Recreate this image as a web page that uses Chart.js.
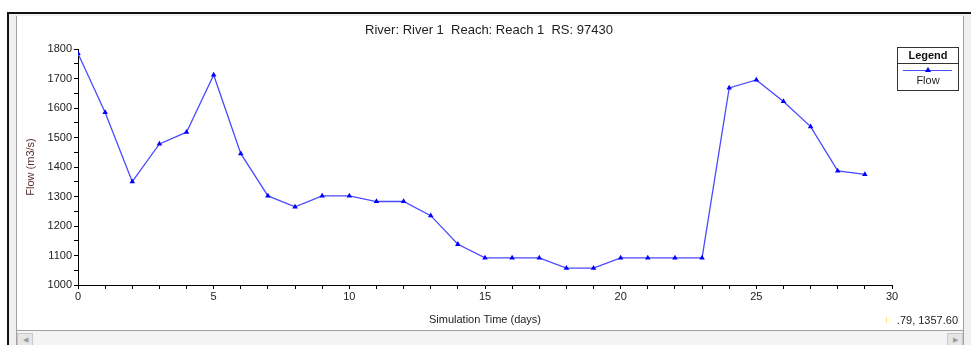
<!DOCTYPE html>
<html>
<head>
<meta charset="utf-8">
<script src="https://cdn.jsdelivr.net/npm/chart.js@4"></script>
<style>
  body { margin: 0; width: 971px; height: 345px; background: #fff; position: relative; overflow: hidden; font-family: "Liberation Sans", Arial, sans-serif; }
  .frame-top { position: absolute; left: 7px; top: 12px; width: 964px; height: 2px; background: #111; }
  .frame-left { position: absolute; left: 7px; top: 12px; width: 2px; height: 333px; background: #111; }
  .frame-gap-l { position: absolute; left: 9px; top: 14px; width: 7px; height: 331px; background: #f0f0f0; }
  .frame-gap-t { position: absolute; left: 9px; top: 14px; width: 962px; height: 2px; background: #f0f0f0; }
  .inner-l { position: absolute; left: 16px; top: 16px; width: 1px; height: 329px; background: #a0a0a0; }
  .vscroll { position: absolute; left: 963px; top: 16px; width: 8px; height: 329px; background: #f0f0f0; border-left: 1px solid #a0a0a0; }
  .hscroll { position: absolute; left: 17px; top: 330px; width: 946px; height: 15px; background: #f4f4f4; border-top: 1px solid #a0a0a0; }
  .hbtn { position: absolute; top: 2px; width: 14px; height: 12px; background: #e6e6e6; border: 1px solid #c8c8c8; font-size: 7px; color: #999; text-align: center; line-height: 12px; }
  #wrap { position: absolute; left: 17px; top: 16px; width: 946px; height: 314px; }
</style>
</head>
<body>
<div class="frame-gap-l"></div>
<div class="frame-gap-t"></div>
<div class="frame-top"></div>
<div class="frame-left"></div>
<div class="inner-l"></div>
<div class="vscroll"></div>
<div class="hscroll"><div class="hbtn" style="left:0">&#9664;</div><div class="hbtn" style="left:930px">&#9654;</div></div>
<div id="wrap"><canvas id="myChart" width="946" height="314"></canvas></div>
<script>
// datos
const days = [0, 1, 2, 3, 4, 5, 6, 7, 8, 9, 10, 11, 12, 13, 14, 15, 16, 17, 18, 19, 20, 21, 22, 23, 24, 25, 26, 27, 28, 29]
const flow = [1785, 1585, 1350, 1478, 1518, 1712, 1445, 1302, 1265, 1302, 1302, 1283, 1283, 1235, 1138, 1092, 1092, 1092, 1057, 1057, 1092, 1092, 1092, 1092, 1668, 1695, 1622, 1537, 1387, 1375]
const xTickLabels = [0, 5, 10, 15, 20, 25, 30]
const yTickLabels = [1000, 1100, 1200, 1300, 1400, 1500, 1600, 1700, 1800]
const chartTitle = "River: River 1  Reach: Reach 1  RS: 97430"
const seriesName = "Flow"
const cursorText = ".79, 1357.60"

const lineColor = "#4a4aff"
const font = "Liberation Sans"

// titulo, leyenda y texto de coordenadas
const extras = {
  id: 'extras',
  afterDraw(chart) {
    const ctx = chart.ctx
    ctx.save()
    ctx.fillStyle = "#222"
    ctx.font = `13px "${font}"`
    ctx.textAlign = "center"
    ctx.textBaseline = "middle"
    ctx.fillText(chartTitle, 472, 14)

    // leyenda
    const lx = 880, ly = 31, lw = 61, lh = 43
    ctx.strokeStyle = "#333"
    ctx.lineWidth = 1
    ctx.strokeRect(lx + 0.5, ly + 0.5, lw, lh)
    ctx.beginPath()
    ctx.moveTo(lx, ly + 16.5)
    ctx.lineTo(lx + lw, ly + 16.5)
    ctx.stroke()
    ctx.font = `bold 11px "${font}"`
    ctx.fillStyle = "#111"
    ctx.fillText("Legend", lx + lw / 2 + 0.5, ly + 9)
    ctx.strokeStyle = lineColor
    ctx.beginPath()
    ctx.moveTo(lx + 6, ly + 23.5)
    ctx.lineTo(lx + lw - 6, ly + 23.5)
    ctx.stroke()
    ctx.fillStyle = "#0000ff"
    ctx.beginPath()
    ctx.moveTo(lx + lw / 2 + 0.5, ly + 20)
    ctx.lineTo(lx + lw / 2 + 3.5, ly + 25)
    ctx.lineTo(lx + lw / 2 - 2.5, ly + 25)
    ctx.fill()
    ctx.font = `11px "${font}"`
    ctx.fillStyle = "#222"
    ctx.fillText(seriesName, lx + lw / 2 + 0.5, ly + 34)

    // coordenadas del cursor
    ctx.textAlign = "right"
    ctx.font = `11px "${font}"`
    ctx.fillText(cursorText, 941, 305)
    ctx.fillStyle = "#ffe27a"
    ctx.fillRect(869, 301, 1, 6)
    ctx.restore()
  }
}

const ctx = document.getElementById('myChart').getContext('2d')
const myChart = new Chart(ctx, {
  type: 'line',
  data: {
    datasets: [
      {
        label: seriesName,
        data: days.map((d, i) => ({ x: d, y: flow[i] })),
        borderColor: lineColor,
        borderWidth: 1.3,
        backgroundColor: "#0000ff",
        pointStyle: 'triangle',
        pointRadius: 3.2,
        pointBorderWidth: 0,
        tension: 0,
      },
    ],
  },
  options: {
    responsive: false,
    animation: false,
    layout: { padding: { top: 33, right: 71, left: 0, bottom: 0 } },
    plugins: {
      legend: { display: false },
      title: { display: false },
      tooltip: { enabled: false },
    },
    scales: {
      x: {
        type: 'linear',
        min: 0,
        max: 30,
        afterFit: (s) => { s.height = 45 },
        border: { color: "#000", width: 1 },
        grid: { drawOnChartArea: false, tickLength: 4, color: "#000" },
        ticks: {
          stepSize: 1,
          autoSkip: false,
          maxRotation: 0,
          padding: 1,
          color: "#222",
          font: { family: font, size: 11 },
          callback: (v) => xTickLabels.includes(v) ? String(v) : '',
        },
        title: {
          display: true,
          text: 'Simulation Time (days)',
          color: "#222",
          font: { family: font, size: 11 },
          padding: { top: 6, bottom: 3 },
        },
      },
      y: {
        min: 1000,
        max: 1800,
        afterFit: (s) => { s.width = 61 },
        border: { color: "#000", width: 1 },
        grid: { drawOnChartArea: false, tickLength: 4, color: "#000" },
        ticks: {
          stepSize: 50,
          autoSkip: false,
          padding: 2,
          color: "#222",
          font: { family: font, size: 11 },
          callback: (v) => yTickLabels.includes(v) ? String(v) : '',
        },
        title: {
          display: true,
          text: 'Flow (m3/s)',
          color: "#5a3030",
          font: { family: font, size: 11 },
          padding: { top: 7, bottom: 2 },
        },
      },
    },
  },
  plugins: [extras],
})
</script>
</body>
</html>
